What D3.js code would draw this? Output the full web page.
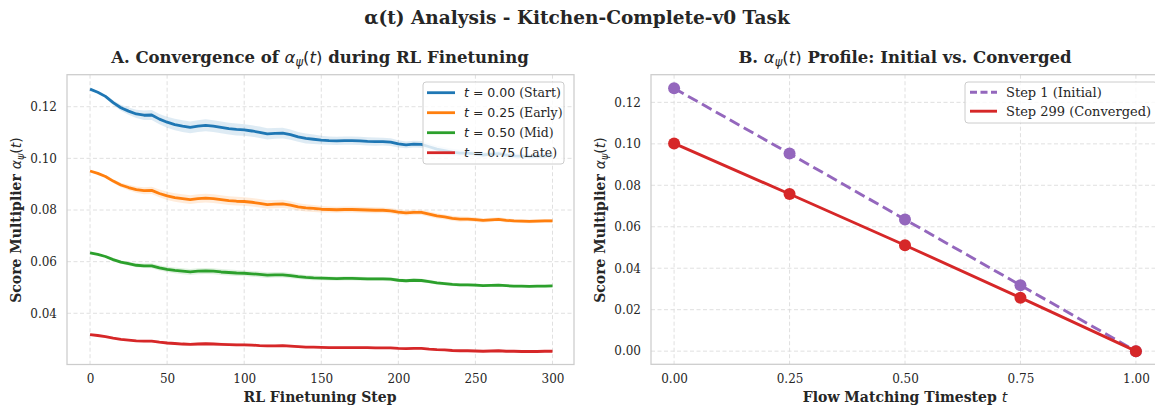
<!DOCTYPE html>
<html><head><meta charset="utf-8">
<script src="https://cdn.jsdelivr.net/npm/d3@7"></script>
<style>
body{margin:0;background:#fff;}
svg text{font-family:"DejaVu Serif",serif;fill:#262626;}
</style></head>
<body><svg id="c" width="1155" height="407"></svg>
<script>
// ---------- DATA ----------
const steps = [0,5,10,15,20,25,30,35,40,45,50,55,60,65,70,75,80,85,90,95,100,105,110,115,120,125,130,135,140,145,150,155,160,165,170,175,180,185,190,195,200,205,210,215,220,225,230,235,240,245,250,255,260,265,270,275,280,285,290,295,300];
const alphaT000 = [0.1268,0.1256,0.1240,0.1216,0.1196,0.1183,0.1172,0.1167,0.1168,0.1152,0.1140,0.1131,0.1125,0.1120,0.1125,0.1128,0.1125,0.1120,0.1115,0.1112,0.1110,0.1106,0.1101,0.1095,0.1097,0.1098,0.1092,0.1083,0.1077,0.1074,0.1071,0.1069,0.1068,0.1069,0.1069,0.1068,0.1066,0.1065,0.1065,0.1063,0.1056,0.1052,0.1055,0.1054,0.1045,0.1036,0.1030,0.1024,0.1020,0.1020,0.1017,0.1013,0.1016,0.1018,0.1013,0.1010,0.1009,0.1008,0.1009,0.1010,0.1011];
const alphaT025 = [0.0951,0.0942,0.0930,0.0912,0.0897,0.0887,0.0879,0.0875,0.0876,0.0864,0.0855,0.0848,0.0844,0.0840,0.0844,0.0846,0.0844,0.0840,0.0836,0.0834,0.0833,0.0830,0.0826,0.0821,0.0823,0.0824,0.0819,0.0812,0.0808,0.0806,0.0803,0.0802,0.0801,0.0802,0.0802,0.0801,0.0800,0.0799,0.0799,0.0797,0.0792,0.0789,0.0791,0.0791,0.0784,0.0777,0.0773,0.0768,0.0765,0.0765,0.0763,0.0760,0.0762,0.0764,0.0760,0.0758,0.0757,0.0756,0.0757,0.0758,0.0758];
const alphaT050 = [0.0634,0.0628,0.0620,0.0608,0.0598,0.0592,0.0586,0.0584,0.0584,0.0576,0.0570,0.0566,0.0563,0.0560,0.0563,0.0564,0.0563,0.0560,0.0558,0.0556,0.0555,0.0553,0.0551,0.0548,0.0549,0.0549,0.0546,0.0542,0.0539,0.0537,0.0536,0.0535,0.0534,0.0535,0.0535,0.0534,0.0533,0.0533,0.0533,0.0532,0.0528,0.0526,0.0528,0.0527,0.0523,0.0518,0.0515,0.0512,0.0510,0.0510,0.0509,0.0507,0.0508,0.0509,0.0507,0.0505,0.0505,0.0504,0.0505,0.0505,0.0506];
const alphaT075 = [0.0317,0.0314,0.0310,0.0304,0.0299,0.0296,0.0293,0.0292,0.0292,0.0288,0.0285,0.0283,0.0281,0.0280,0.0281,0.0282,0.0281,0.0280,0.0279,0.0278,0.0278,0.0277,0.0275,0.0274,0.0274,0.0275,0.0273,0.0271,0.0269,0.0269,0.0268,0.0267,0.0267,0.0267,0.0267,0.0267,0.0267,0.0266,0.0266,0.0266,0.0264,0.0263,0.0264,0.0264,0.0261,0.0259,0.0258,0.0256,0.0255,0.0255,0.0254,0.0253,0.0254,0.0255,0.0253,0.0253,0.0252,0.0252,0.0252,0.0253,0.0253];
// band half-widths (std across runs)
const stdT000 = [0.0003,0.0004,0.0006,0.0009,0.0012,0.0014,0.0016,0.0018,0.0019,0.0020,0.0021,0.0022,0.0023,0.0023,0.0023,0.0023,0.0023,0.0023,0.0023,0.0023,0.0022,0.0022,0.0022,0.0022,0.0021,0.0021,0.0020,0.0019,0.0019,0.0018,0.0017,0.0016,0.0016,0.0016,0.0016,0.0016,0.0016,0.0016,0.0015,0.0015,0.0014,0.0013,0.0013,0.0013,0.0013,0.0013,0.0013,0.0013,0.0013,0.0012,0.0012,0.0011,0.0011,0.0011,0.0011,0.0010,0.0010,0.0010,0.0010,0.0010,0.0010];
const stdT025 = [0.0002,0.0003,0.00045,0.0007,0.0009,0.00105,0.0012,0.00135,0.0014,0.0015,0.0016,0.00165,0.0017,0.0017,0.0017,0.0017,0.0017,0.0017,0.0017,0.0017,0.00165,0.00165,0.00165,0.00165,0.0016,0.0016,0.0015,0.0014,0.0014,0.00135,0.0013,0.0012,0.0012,0.0012,0.0012,0.0012,0.0012,0.0012,0.0011,0.0011,0.00105,0.001,0.001,0.001,0.001,0.001,0.001,0.001,0.001,0.0009,0.0009,0.0008,0.0008,0.0008,0.0008,0.00075,0.00075,0.00075,0.00075,0.00075,0.00075];
const stdT050 = [0.00015,0.0002,0.0003,0.00045,0.0006,0.0007,0.0008,0.0009,0.00095,0.001,0.00105,0.0011,0.00115,0.00115,0.00115,0.00115,0.00115,0.00115,0.00115,0.00115,0.0011,0.0011,0.0011,0.0011,0.00105,0.00105,0.001,0.00095,0.00095,0.0009,0.00085,0.0008,0.0008,0.0008,0.0008,0.0008,0.0008,0.0008,0.00075,0.00075,0.0007,0.00065,0.00065,0.00065,0.00065,0.00065,0.00065,0.00065,0.00065,0.0006,0.0006,0.00055,0.00055,0.00055,0.00055,0.0005,0.0005,0.0005,0.0005,0.0005,0.0005];
const stdT075 = [0.00008,0.0001,0.00015,0.00022,0.0003,0.00035,0.0004,0.00045,0.00048,0.0005,0.00052,0.00055,0.00058,0.00058,0.00058,0.00058,0.00058,0.00058,0.00058,0.00058,0.00055,0.00055,0.00055,0.00055,0.00052,0.00052,0.0005,0.00048,0.00048,0.00045,0.00042,0.0004,0.0004,0.0004,0.0004,0.0004,0.0004,0.0004,0.00038,0.00038,0.00035,0.00032,0.00032,0.00032,0.00032,0.00032,0.00032,0.00032,0.00032,0.0003,0.0003,0.00028,0.00028,0.00028,0.00028,0.00025,0.00025,0.00025,0.00025,0.00025,0.00025];
const seriesLabels = ["0.00 (Start)","0.25 (Early)","0.50 (Mid)","0.75 (Late)"];
const seriesColors = ["#1f77b4","#ff7f0e","#2ca02c","#d62728"];

const timesteps = [0.00,0.25,0.50,0.75,1.00];
const profileInitial = [0.1268,0.0953,0.0635,0.0318,0.0];
const profileConverged = [0.1002,0.0758,0.0511,0.0258,0.0];
const profileLabels = ["Step 1 (Initial)","Step 299 (Converged)"];

const xTicksL = [0,50,100,150,200,250,300];
const yTicksL = [0.04,0.06,0.08,0.10,0.12];
const xTicksR = [0.00,0.25,0.50,0.75,1.00];
const yTicksR = [0.00,0.02,0.04,0.06,0.08,0.10,0.12];

// ---------- DRAW ----------
const svg = d3.select("#c");
const MATH = '"DejaVu Sans",sans-serif';

const xL = d3.scaleLinear().domain([-14.95,313.95]).range([67,574]);
const yL = d3.scaleLinear().domain([0.02017,0.1324]).range([364.5,74.7]);
const xR = d3.scaleLinear().domain([-0.05,1.05]).range([651,1159]);
const yR = d3.scaleLinear().domain([-0.00635,0.13335]).range([364.3,74.7]);

function panel(x, y, xt, yt, xfmt, yfmt){
  const g = svg.append("g");
  const [x0,x1] = x.range(), [y1,y0] = y.range();
  g.selectAll(".gx").data(xt).join("line")
    .attr("x1",d=>x(d)).attr("x2",d=>x(d)).attr("y1",y0).attr("y2",y1)
    .attr("stroke","#dcdcdc").attr("stroke-width",0.9).attr("stroke-dasharray","4,2.5");
  g.selectAll(".gy").data(yt).join("line")
    .attr("y1",d=>y(d)).attr("y2",d=>y(d)).attr("x1",x0).attr("x2",x1)
    .attr("stroke","#dcdcdc").attr("stroke-width",0.9).attr("stroke-dasharray","4,2.5");
  const ax = g.append("g").attr("transform",`translate(0,${y1})`)
    .call(d3.axisBottom(x).tickValues(xt).tickSize(0).tickPadding(10).tickFormat(xfmt));
  const ay = g.append("g").attr("transform",`translate(${x0},0)`)
    .call(d3.axisLeft(y).tickValues(yt).tickSize(0).tickPadding(10).tickFormat(yfmt));
  [ax,ay].forEach(a=>{a.select(".domain").remove();
    a.selectAll("text").style("font-family",'"DejaVu Serif",serif').style("font-size","12px").attr("fill","#262626");});
  g.append("rect").attr("x",x0).attr("y",y0).attr("width",x1-x0).attr("height",y1-y0)
    .attr("fill","none").attr("stroke","#cccccc").attr("stroke-width",1.25);
  return g;
}

const gL = panel(xL,yL,xTicksL,yTicksL,d3.format("d"),d3.format(".2f"));
const gR = panel(xR,yR,xTicksR,yTicksR,d3.format(".2f"),d3.format(".2f"));

const means = [alphaT000,alphaT025,alphaT050,alphaT075];
const stds = [stdT000,stdT025,stdT050,stdT075];
means.forEach((m,i)=>{
  const pts = steps.map((s,k)=>({s,v:m[k],e:stds[i][k]}));
  gL.append("path").datum(pts)
    .attr("d",d3.area().x(d=>xL(d.s)).y0(d=>yL(d.v-d.e)).y1(d=>yL(d.v+d.e)))
    .attr("fill",seriesColors[i]).attr("fill-opacity",0.15);
  gL.append("path").datum(pts)
    .attr("d",d3.line().x(d=>xL(d.s)).y(d=>yL(d.v)))
    .attr("fill","none").attr("stroke",seriesColors[i]).attr("stroke-width",2.8)
    .attr("stroke-linejoin","round");
});

const prof = [
  {vals:profileInitial,color:"#9467bd",dash:"11,5",label:profileLabels[0]},
  {vals:profileConverged,color:"#d62728",dash:null,label:profileLabels[1]}
];
prof.forEach(p=>{
  const pts = timesteps.map((t,k)=>({t,v:p.vals[k]}));
  gR.append("path").datum(pts)
    .attr("d",d3.line().x(d=>xR(d.t)).y(d=>yR(d.v)))
    .attr("fill","none").attr("stroke",p.color).attr("stroke-width",2.9)
    .attr("stroke-dasharray",p.dash);
  gR.selectAll(null).data(pts).join("circle")
    .attr("cx",d=>xR(d.t)).attr("cy",d=>yR(d.v)).attr("r",6).attr("fill",p.color);
});

function legendBox(g,x,y,w,h){
  g.append("rect").attr("x",x).attr("y",y).attr("width",w).attr("height",h).attr("rx",3)
    .attr("fill","#fff").attr("fill-opacity",0.8).attr("stroke","#cccccc").attr("stroke-width",1);
}
legendBox(gL,423,82,141,82);
seriesLabels.forEach((lab,i)=>{
  const yy = 92.7 + i*20;
  gL.append("line").attr("x1",427).attr("x2",455).attr("y1",yy).attr("y2",yy)
    .attr("stroke",seriesColors[i]).attr("stroke-width",2.8);
  const t = gL.append("text").attr("x",464).attr("y",yy+4.5).style("font-size","12.5px");
  t.append("tspan").style("font-family",MATH).style("font-style","italic").text("t");
  t.append("tspan").style("font-family",MATH).text(" = "+lab.split(" ")[0]);
  t.append("tspan").text(" "+lab.split(" ").slice(1).join(" "));
});
legendBox(gR,965,82,192,41);
prof.forEach((p,i)=>{
  const yy = 92.2 + i*19;
  gR.append("line").attr("x1",970).attr("x2",997).attr("y1",yy).attr("y2",yy)
    .attr("stroke",p.color).attr("stroke-width",2.9).attr("stroke-dasharray",p.dash?"7,3.5":null);
  gR.append("text").attr("x",1006).attr("y",yy+4.5).style("font-size","13px").text(p.label);
});

svg.append("text").attr("x",577).attr("y",24).attr("text-anchor","middle")
  .style("font-size","18.5px").style("font-weight","bold").text("α(t) Analysis - Kitchen-Complete-v0 Task");

function mathTitle(x,y,pre,post,size){
  const t = svg.append("text").attr("x",x).attr("y",y).attr("text-anchor","middle")
    .style("font-size",size+"px").style("font-weight","bold");
  t.append("tspan").text(pre);
  t.append("tspan").style("font-family",MATH).style("font-style","italic").style("font-weight","normal").text("α");
  t.append("tspan").style("font-family",MATH).style("font-style","italic").style("font-weight","normal")
    .style("font-size",(size*0.7)+"px").attr("dy",size*0.2).text("ψ");
  t.append("tspan").style("font-family",MATH).style("font-weight","normal").attr("dy",-size*0.2).text("(");
  t.append("tspan").style("font-family",MATH).style("font-style","italic").style("font-weight","normal").text("t");
  t.append("tspan").style("font-family",MATH).style("font-weight","normal").text(")");
  t.append("tspan").text(post);
  return t;
}
mathTitle(320,62.5,"A. Convergence of ","  during RL Finetuning",16.5);
mathTitle(905,62.5,"B. ","  Profile: Initial vs. Converged",16.5);

svg.append("text").attr("x",320).attr("y",402).attr("text-anchor","middle")
  .style("font-size","14px").style("font-weight","bold").text("RL Finetuning Step");
const xl = svg.append("text").attr("x",905).attr("y",402).attr("text-anchor","middle")
  .style("font-size","14px").style("font-weight","bold").text("Flow Matching Timestep ");
xl.append("tspan").style("font-family",MATH).style("font-style","italic").style("font-weight","normal").text("t");

const ylab = mathTitle(0,0,"Score Multiplier ","",14);
ylab.attr("transform","translate(21,220) rotate(-90)");
const ylab2 = mathTitle(0,0,"Score Multiplier ","",14);
ylab2.attr("transform","translate(605,220) rotate(-90)");
</script></body></html>
